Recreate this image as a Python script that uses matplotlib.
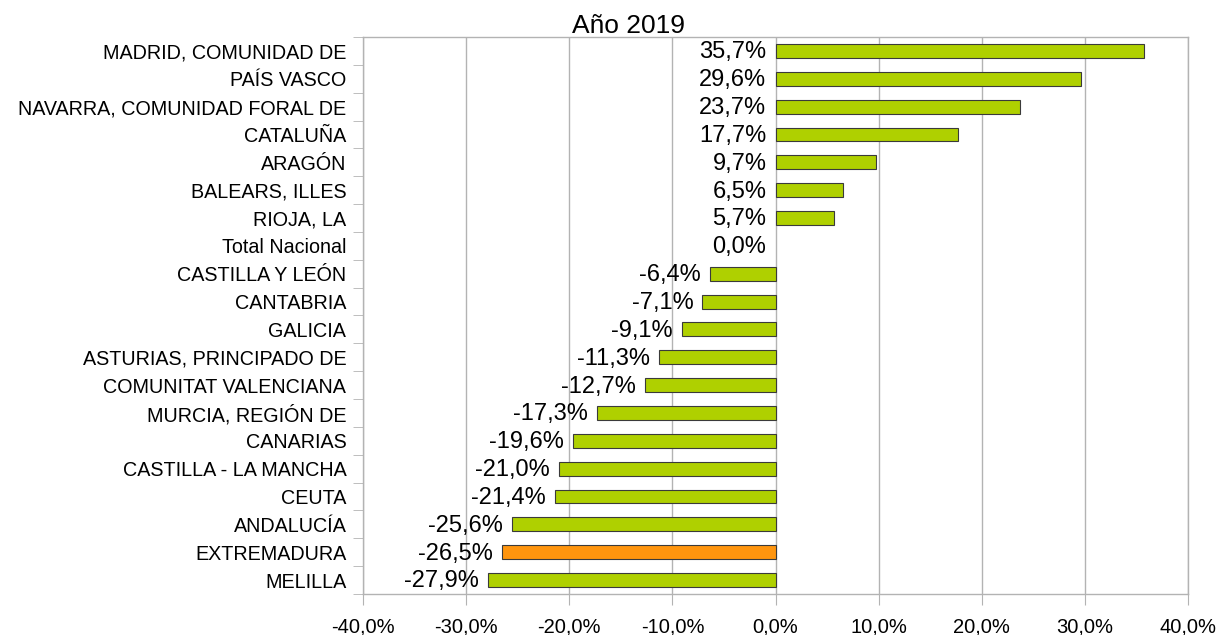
import matplotlib
matplotlib.use("Agg")
import matplotlib.pyplot as plt
import numpy as np

plt.rcParams['font.family'] = ['Liberation Sans', 'DejaVu Sans']

# categories top -> bottom
regions = [
    "MADRID, COMUNIDAD DE", "PAÍS VASCO", "NAVARRA, COMUNIDAD FORAL DE",
    "CATALUÑA", "ARAGÓN", "BALEARS, ILLES", "RIOJA, LA", "Total Nacional",
    "CASTILLA Y LEÓN", "CANTABRIA", "GALICIA", "ASTURIAS, PRINCIPADO DE",
    "COMUNITAT VALENCIANA", "MURCIA, REGIÓN DE", "CANARIAS",
    "CASTILLA - LA MANCHA", "CEUTA", "ANDALUCÍA", "EXTREMADURA", "MELILLA",
]
values = [35.7, 29.6, 23.7, 17.7, 9.7, 6.5, 5.7, 0.0, -6.4, -7.1, -9.1,
          -11.3, -12.7, -17.3, -19.6, -21.0, -21.4, -25.6, -26.5, -27.9]
highlight = "EXTREMADURA"
xticks = [-40, -30, -20, -10, 0, 10, 20, 30, 40]

GREEN = "#afd000"
ORANGE = "#ff950e"
GRID = "#b3b3b3"


def pct(v):
    return f"{v:.1f}%".replace(".", ",")


fig = plt.figure(figsize=(12.23, 6.35), dpi=100)
ax = fig.add_axes([363 / 1223, 1 - 594 / 635, (1188 - 363) / 1223, (594 - 37) / 635])

n = len(regions)
ypos = np.arange(n)
colors = [ORANGE if r == highlight else GREEN for r in regions]
edge_w = [0.8 if v != 0 else 0 for v in values]
ax.barh(ypos, values, height=0.5, color=colors, edgecolor="#3a3a3a",
        linewidth=edge_w, zorder=3)

ax.set_xlim(-40, 40)
ax.set_ylim(n - 0.5, -0.5)
ax.set_xticks(xticks)
ax.set_xticklabels([pct(v) for v in xticks], fontsize=14.5)
ax.set_yticks(ypos)
ax.set_yticklabels(regions, fontsize=14.2)
ax.set_yticks(np.arange(n + 1) - 0.5, minor=True)
ax.tick_params(axis="y", which="major", length=0, pad=12)
ax.tick_params(axis="y", which="minor", length=7.5, color=GRID, direction="out")
ax.tick_params(axis="x", which="major", length=8, color=GRID, direction="out", pad=9)
ax.xaxis.grid(True, color=GRID, linewidth=1, zorder=0)
for s in ax.spines.values():
    s.set_color(GRID)
    s.set_linewidth(1)

# value labels: right-aligned just left of the bar's left end (or zero)
for y, v in zip(ypos, values):
    ax.annotate(pct(v), xy=(min(v, 0), y), xytext=(-6.5, -1),
                textcoords="offset points", ha="right", va="center",
                fontsize=17, zorder=4)

fig.text(628 / 1223, 1 - 33 / 635, "Año 2019", fontsize=19,
         ha="center", va="baseline")

fig.savefig("out.png", dpi=100)
